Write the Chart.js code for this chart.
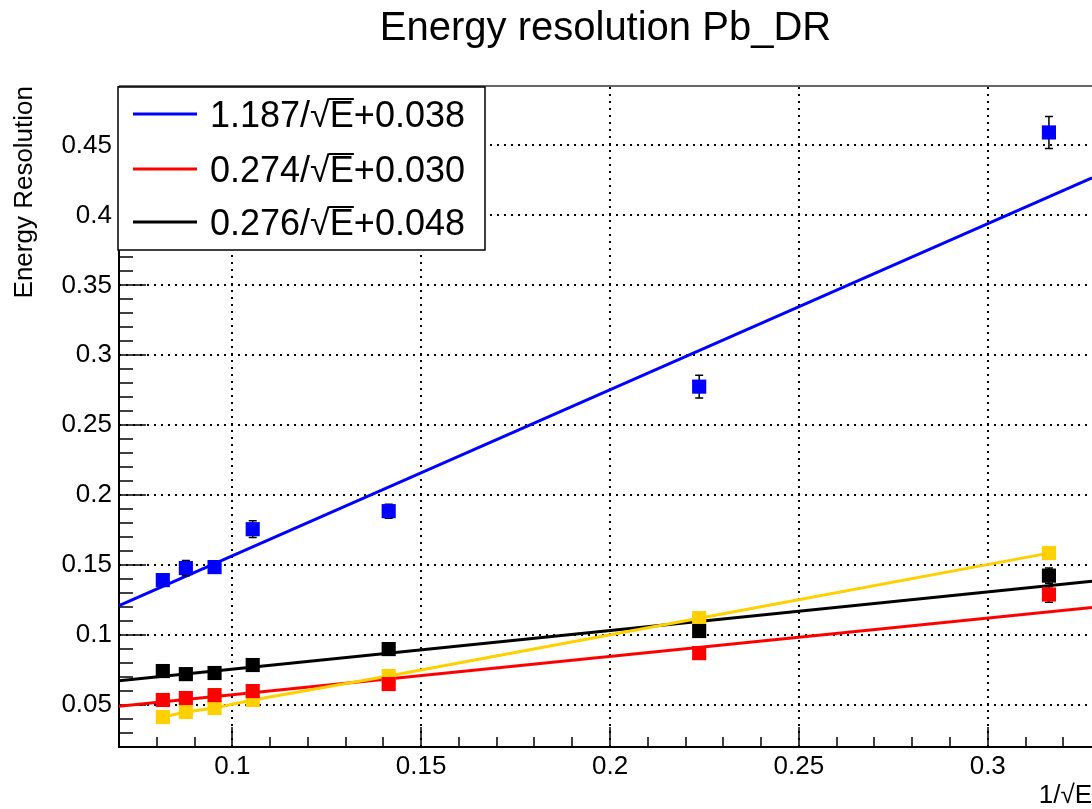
<!DOCTYPE html>
<html>
<head>
<meta charset="utf-8">
<title>Energy resolution Pb_DR</title>
<script src="https://cdn.jsdelivr.net/npm/chart.js@4.4.1/dist/chart.umd.min.js"></script>
<style>
    html, body { margin: 0; padding: 0; background: #fff; overflow: hidden; }
    #wrap { width: 1092px; height: 809px; }
</style>
</head>
<body>
<div id="wrap"><canvas id="resChart" width="1092" height="809"></canvas></div>
<script>
// x values: 1/sqrt(E)
const invSqrtE = [0.0816, 0.0877, 0.0953, 0.1054, 0.1414, 0.2236, 0.3162];

// measured resolutions and their errors
const blueRes = [0.1393, 0.1479, 0.1486, 0.1757, 0.1886, 0.2776, 0.4593];
const blueErr = [0.004, 0.0055, 0.004, 0.006, 0.005, 0.0082, 0.0114];
const redRes = [0.0536, 0.0550, 0.0571, 0.0600, 0.0650, 0.0871, 0.1290];
const redErr = [0.002, 0.002, 0.002, 0.002, 0.002, 0.003, 0.0055];
const blackRes = [0.0743, 0.0721, 0.0729, 0.0786, 0.0900, 0.1029, 0.1425];
const blackErr = [0.002, 0.002, 0.002, 0.002, 0.002, 0.003, 0.0055];
const yellowRes = [0.0414, 0.0450, 0.0479, 0.0536, 0.0707, 0.1121, 0.1586];
const yellowErr = [0.001, 0.001, 0.001, 0.001, 0.001, 0.001, 0.001];

// fit parameters (from the legend): a/sqrt(E) + b
const fitSlopes = [1.187, 0.274, 0.276];
const fitOffsets = [0.038, 0.030, 0.048];
const legendLabels = ['1.187/\u221AE+0.038', '0.274/\u221AE+0.030', '0.276/\u221AE+0.048'];

// axes
const xMin = 0.07, xMax = 0.3276;
const yMin = 0.02, yMax = 0.4925;
const xMajorTicks = [0.1, 0.15, 0.2, 0.25, 0.3];
const xTickLabels = ['0.1', '0.15', '0.2', '0.25', '0.3'];
const yMajorTicks = [0.05, 0.1, 0.15, 0.2, 0.25, 0.3, 0.35, 0.4, 0.45];
const yTickLabels = ['0.05', '0.1', '0.15', '0.2', '0.25', '0.3', '0.35', '0.4', '0.45'];

const BLUE = '#0000ff', RED = '#ff0000', BLACK = '#000000', YELLOW = '#ffd000';
const FONT = '"Liberation Sans", Arial, Helvetica, sans-serif';

function points(vals) {
    return invSqrtE.map((x, i) => ({ x: x, y: vals[i] }));
}

function fitLine(i) {
    return [
        { x: xMin, y: fitSlopes[i] * xMin + fitOffsets[i] },
        { x: xMax, y: fitSlopes[i] * xMax + fitOffsets[i] }
    ];
}

function markerSet(vals, errs, color, withLine) {
    return {
        type: 'scatter',
        data: points(vals),
        errors: errs,
        showLine: withLine,
        borderColor: color,
        borderWidth: 3,
        backgroundColor: color,
        pointStyle: 'rect',
        pointRadius: 10,
        pointBorderWidth: 0,
        pointBackgroundColor: color
    };
}

function fitSet(i, color) {
    return {
        type: 'line',
        data: fitLine(i),
        borderColor: color,
        borderWidth: 3,
        pointRadius: 0,
        fill: false
    };
}

// ROOT-like frame: dotted grid, inside ticks, error bars, legend box
const rootFrame = {
    id: 'rootFrame',
    beforeDatasetsDraw(chart) {
        const { ctx, chartArea: a, scales: { x, y } } = chart;
        ctx.save();

        // dotted grid
        ctx.strokeStyle = '#000';
        ctx.lineWidth = 2;
        ctx.setLineDash([2, 5]);
        xMajorTicks.forEach(v => {
            const px = Math.round(x.getPixelForValue(v));
            ctx.beginPath(); ctx.moveTo(px, a.bottom); ctx.lineTo(px, a.top); ctx.stroke();
        });
        yMajorTicks.forEach(v => {
            const py = Math.round(y.getPixelForValue(v));
            ctx.beginPath(); ctx.moveTo(a.left, py); ctx.lineTo(a.right, py); ctx.stroke();
        });
        ctx.setLineDash([]);

        // ticks on x (pointing up)
        ctx.lineWidth = 1.5;
        for (let k = 7; k <= 32; k++) {
            const v = k / 100;
            const px = Math.round(x.getPixelForValue(v));
            const major = k % 5 === 0;
            ctx.beginPath(); ctx.moveTo(px, a.bottom); ctx.lineTo(px, a.bottom - (major ? 20 : 10)); ctx.stroke();
        }
        // ticks on y (pointing right)
        for (let k = 2; k <= 49; k++) {
            const v = k / 100;
            const py = Math.round(y.getPixelForValue(v));
            const major = k % 5 === 0;
            ctx.beginPath(); ctx.moveTo(a.left, py); ctx.lineTo(a.left + (major ? 27 : 14), py); ctx.stroke();
        }

        // frame
        ctx.strokeStyle = '#333';
        ctx.lineWidth = 1.5;
        ctx.beginPath(); ctx.moveTo(a.left, a.top); ctx.lineTo(a.right, a.top); ctx.stroke();
        ctx.strokeStyle = '#000';
        ctx.lineWidth = 2;
        ctx.beginPath();
        ctx.moveTo(a.left, a.top); ctx.lineTo(a.left, a.bottom); ctx.lineTo(a.right, a.bottom);
        ctx.stroke();
        ctx.restore();
    },
    beforeDatasetDraw(chart, args) {
        const ds = chart.data.datasets[args.index];
        if (!ds.errors) return;
        const { ctx, scales: { x, y } } = chart;
        ctx.save();
        ctx.strokeStyle = '#000';
        ctx.lineWidth = 1.5;
        ds.data.forEach((p, i) => {
            const px = x.getPixelForValue(p.x);
            const y1 = y.getPixelForValue(p.y + ds.errors[i]);
            const y2 = y.getPixelForValue(p.y - ds.errors[i]);
            ctx.beginPath();
            ctx.moveTo(px, y1); ctx.lineTo(px, y2);
            ctx.moveTo(px - 4, y1); ctx.lineTo(px + 4, y1);
            ctx.moveTo(px - 4, y2); ctx.lineTo(px + 4, y2);
            ctx.stroke();
        });
        ctx.restore();
    },
    afterDatasetsDraw(chart) {
        const { ctx, chartArea: a } = chart;
        const bx = a.left - 1, by = a.top + 1, bw = 367, bh = 163;
        const colors = [BLUE, RED, BLACK];
        const rows = [114, 169, 222];
        ctx.save();
        ctx.fillStyle = '#fff';
        ctx.fillRect(bx, by, bw, bh);
        ctx.strokeStyle = '#000';
        ctx.lineWidth = 1.5;
        ctx.strokeRect(bx, by, bw, bh);

        ctx.font = '36px ' + FONT;
        ctx.textBaseline = 'alphabetic';
        legendLabels.forEach((label, i) => {
            const ly = rows[i];
            ctx.strokeStyle = colors[i];
            ctx.lineWidth = 3;
            ctx.beginPath(); ctx.moveTo(bx + 15, ly); ctx.lineTo(bx + 79, ly); ctx.stroke();

            const parts = label.split('\u221A');
            const base = ly + 13;
            let tx = bx + 92;
            ctx.fillStyle = '#000';
            ctx.fillText(parts[0], tx, base);
            tx += ctx.measureText(parts[0]).width;
            const rad = ctx.measureText('\u221A');
            ctx.fillText('\u221A', tx, base);
            tx += rad.width;
            const top = base - rad.actualBoundingBoxAscent;
            ctx.fillText(parts[1], tx, base);
            const wE = ctx.measureText('E').width;
            ctx.strokeStyle = '#000';
            ctx.lineWidth = 2;
            ctx.beginPath(); ctx.moveTo(tx - 1, top + 1); ctx.lineTo(tx + wE, top + 1); ctx.stroke();
        });
        ctx.restore();
    }
};

new Chart(document.getElementById('resChart'), {
    type: 'scatter',
    data: {
        datasets: [
            markerSet(blueRes, blueErr, BLUE, false),
            markerSet(blackRes, blackErr, BLACK, false),
            markerSet(redRes, redErr, RED, false),
            markerSet(yellowRes, yellowErr, YELLOW, true),
            fitSet(0, BLUE),
            fitSet(2, BLACK),
            fitSet(1, RED)
        ]
    },
    options: {
        responsive: false,
        devicePixelRatio: 1,
        animation: false,
        layout: { padding: 0, autoPadding: false },
        plugins: {
            legend: { display: false },
            tooltip: { enabled: false },
            title: {
                display: true,
                text: 'Energy resolution Pb_DR',
                fullSize: false,
                color: '#000',
                font: { family: FONT, size: 40, weight: 'normal' },
                padding: { top: 5, bottom: 33 }
            }
        },
        scales: {
            x: {
                type: 'linear',
                min: xMin,
                max: xMax,
                afterBuildTicks: s => { s.ticks = xMajorTicks.map(v => ({ value: v })); },
                afterFit: s => { s.height = 62; s.paddingLeft = 0; s.paddingRight = 0; },
                grid: { display: false, drawTicks: false },
                border: { display: false },
                ticks: {
                    color: '#000',
                    padding: 4,
                    maxRotation: 0,
                    autoSkip: false,
                    font: { family: FONT, size: 26 },
                    callback: (v, i) => xTickLabels[i]
                },
                title: {
                    display: true,
                    text: '1/\u221AE',
                    align: 'end',
                    color: '#000',
                    font: { family: FONT, size: 26, lineHeight: 1 },
                    padding: 0
                }
            },
            y: {
                type: 'linear',
                min: yMin,
                max: yMax,
                afterBuildTicks: s => { s.ticks = yMajorTicks.map(v => ({ value: v })); },
                afterFit: s => { s.width = 119; s.paddingTop = 0; s.paddingBottom = 0; },
                grid: { display: false, drawTicks: false },
                border: { display: false },
                ticks: {
                    color: '#000',
                    padding: 7,
                    autoSkip: false,
                    font: { family: FONT, size: 26 },
                    callback: (v, i) => yTickLabels[i]
                },
                title: {
                    display: true,
                    text: 'Energy Resolution',
                    align: 'end',
                    color: '#000',
                    font: { family: FONT, size: 26 },
                    padding: { top: 9, bottom: 0 }
                }
            }
        }
    },
    plugins: [rootFrame]
});
</script>
</body>
</html>
